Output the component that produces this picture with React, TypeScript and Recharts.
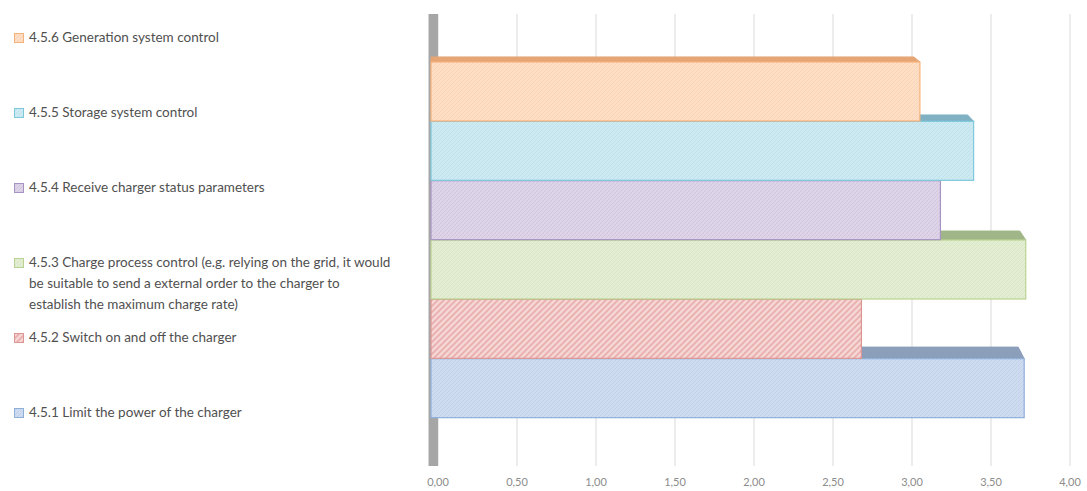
import { BarChart, Bar, Cell, XAxis, YAxis, CartesianGrid, ReferenceArea } from 'recharts';

// bottom row first; the y axis is reversed so 4.5.6 sits on top
const CATEGORIES = [
  '4.5.1 Limit the power of the charger',
  '4.5.2 Switch on and off the charger',
  '4.5.3 Charge process control (e.g. relying on the grid, it would\nbe suitable to send a external order to the charger to\nestablish the maximum charge rate)',
  '4.5.4 Receive charger status parameters',
  '4.5.5 Storage system control',
  '4.5.6 Generation system control',
];
const VALUES = [3.71, 2.68, 3.72, 3.18, 3.39, 3.05];
const X_TICKS = [0, 0.5, 1, 1.5, 2, 2.5, 3, 3.5, 4];

// light fill, hatch stripe, border, top face
const PALETTE = [
  { fill: '#cfdcef', stripe: '#bfd1ea', border: '#8eafd9', top: '#8c9fba' }, // blue
  { fill: '#f6d6d5', stripe: '#e8aeac', border: '#dd9593', top: '#c98a88' }, // red
  { fill: '#e3edd3', stripe: '#d8e6c1', border: '#b9d291', top: '#a1b688' }, // green
  { fill: '#ddd4e8', stripe: '#d0c4df', border: '#a793c2', top: '#9b8ab0' }, // purple
  { fill: '#cde9f1', stripe: '#bde2ec', border: '#7ec8dc', top: '#7fb1c3' }, // aqua
  { fill: '#fddfc8', stripe: '#fad1b1', border: '#f7b27a', top: '#e6a574' }, // orange
];

const chartData = CATEGORIES.map((name, i) => ({ name, value: VALUES[i] }));

const fmt = (v: number) => v.toFixed(2).replace('.', ',');

// front face plus a darker top face to fake Excel's 3D look;
// the front runs a few px past zero so it hides the wall like in Excel
function Bar3D(props: any) {
  const { x, y, width, height, index } = props;
  const c = PALETTE[index];
  const d = 5 + (y - 60) * 0.022;
  const dx = 6;
  const lead = 7;
  const x0 = x - lead;
  return (
    <g>
      <polygon
        points={`${x0},${y} ${x + width},${y} ${x + width - dx},${y - d} ${x0},${y - d}`}
        fill={c.top}
        stroke={c.top}
      />
      <rect x={x0} y={y} width={width + lead} height={height} fill={`url(#hatch${index})`} stroke={c.border} strokeWidth={1.2} />
    </g>
  );
}

function HatchDefs({ prefix }: { prefix: string }) {
  return (
    <defs>
      {PALETTE.map((c, i) => {
        const size = i === 1 ? 6 : 4;
        return (
          <pattern key={i} id={`${prefix}${i}`} width={size} height={size} patternUnits="userSpaceOnUse">
            <rect width={size} height={size} fill={c.fill} />
            <path
              d={`M-1,1 l2,-2 M0,${size} l${size},-${size} M${size - 1},${size + 1} l2,-2`}
              stroke={c.stripe}
              strokeWidth={i === 1 ? 1.6 : 1}
            />
          </pattern>
        );
      })}
    </defs>
  );
}

export default function App() {
  const legendItems = CATEGORIES.map((name, i) => ({ name, i })).reverse();
  return (
    <div style={{ position: 'fixed', left: 0, top: 0, width: 1087, height: 491, background: '#fff', fontFamily: 'Lato, sans-serif' }}>
      <div style={{ position: 'absolute', left: 14, top: 27, width: 420 }}>
        {legendItems.map(({ name, i }) => (
          <div key={name} style={{ height: 75, display: 'flex', alignItems: 'flex-start' }}>
            <svg width={10} height={10} style={{ marginTop: 6, flexShrink: 0 }}>
              <HatchDefs prefix={`lg${i}_`} />
              <rect x={0.5} y={0.5} width={9} height={9} fill={`url(#lg${i}_${i})`} stroke={PALETTE[i].border} />
            </svg>
            <div style={{ marginLeft: 5, fontSize: 13.5, lineHeight: '21px', color: '#505050', whiteSpace: 'pre-line' }}>
              {name}
            </div>
          </div>
        ))}
      </div>
      <BarChart
        width={1087}
        height={491}
        data={chartData}
        layout="vertical"
        barCategoryGap={0}
        margin={{ top: 14, right: 17, bottom: 0, left: 438 }}
      >
        <HatchDefs prefix="hatch" />
        <CartesianGrid horizontal={false} stroke="#d9d9d9" />
        <XAxis
          type="number"
          domain={[0, 4]}
          ticks={X_TICKS}
          tickFormatter={fmt}
          axisLine={false}
          tickLine={false}
          tickMargin={6}
          height={25}
          tick={{ fontSize: 11, fill: '#8c8c8c' }}
        />
        <YAxis type="category" dataKey="name" hide reversed padding={{ top: 48, bottom: 48 }} />
        <YAxis yAxisId="wall" type="number" domain={[0, 1]} allowDataOverflow hide />
        <ReferenceArea yAxisId="wall" x1={-0.06} x2={0} fill="#a6a6a6" fillOpacity={1} stroke="none" ifOverflow="visible" />
        <Bar dataKey="value" shape={Bar3D} isAnimationActive={false}>
          {chartData.map((_, i) => (
            <Cell key={i} fill={PALETTE[i].fill} />
          ))}
        </Bar>
      </BarChart>
    </div>
  );
}
